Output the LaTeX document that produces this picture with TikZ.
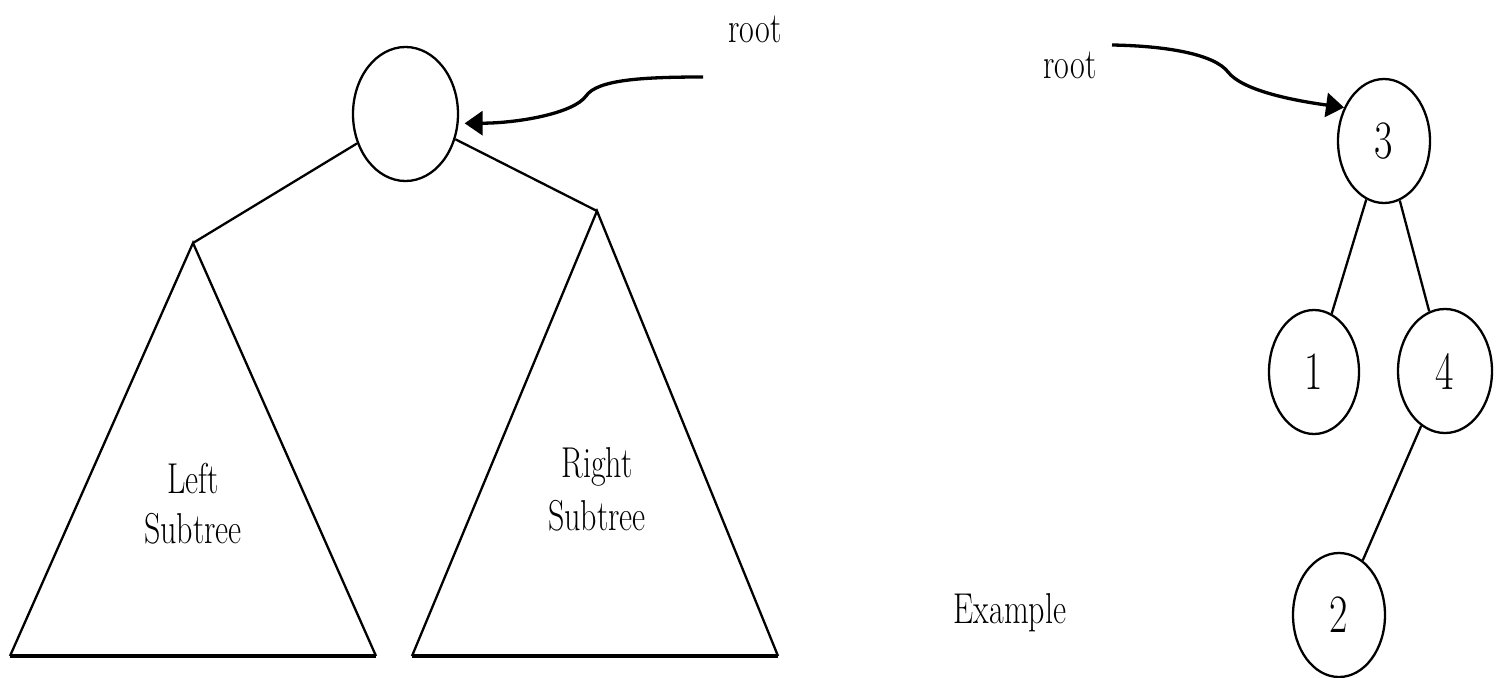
\documentclass[tikz,border=0pt]{standalone}
\usetikzlibrary{shapes.geometric,arrows.meta}
\newcommand\vstr[1]{\scalebox{1}[1.35]{#1}}
\begin{document}
\begin{tikzpicture}[x=1pt,y=-1pt,
  lw/.style={line width=2.3pt},
  tnode/.style={draw,ellipse,line width=2.3pt,inner sep=0pt,minimum width=92pt,minimum height=124pt,
                font=\fontsize{40}{44}\selectfont},
  lbl/.style={inner sep=0pt,anchor=base,font=\fontsize{32}{37}\selectfont},
  edge/.style={line width=2.3pt},
  ptr/.style={line width=3.3pt,-{Triangle[length=18pt,width=24pt]}}
]
\useasboundingbox (0,0) rectangle (1501,677);
% left: general structure
\node[tnode,minimum width=105pt,minimum height=134pt] (root) at (405.5,114) {};
\coordinate (la) at (193,243);
\coordinate (lb1) at (10,656);
\coordinate (lb2) at (376,656);
\coordinate (ra) at (597,211);
\coordinate (rb1) at (412,656);
\coordinate (rb2) at (778,656);
\draw[lw,line join=miter] (lb1) -- (la) -- (lb2);
\draw[line width=3.3pt] (lb1) -- (lb2);
\draw[lw,line join=miter] (rb1) -- (ra) -- (rb2);
\draw[line width=3.3pt] (rb1) -- (rb2);
\draw[edge] (root) -- (la);
\draw[edge] (root) -- (ra);
\node[lbl] (lt1) at (193,493) {\vstr{Left}};
\node[lbl] (lt2) at (193,543) {\vstr{Subtree}};
\node[lbl] (rt1) at (597,477) {\vstr{Right}};
\node[lbl] (rt2) at (597,530) {\vstr{Subtree}};
\node[lbl] (rootA) at (755,43) {\vstr{root}};
\coordinate (pA) at (703,77);
\draw[ptr,shorten >=6pt] (pA) .. controls (640,77) and (597,80) .. (586,96)
   .. controls (574,113) and (520,123) .. (root.350);
% right: example
\node[tnode] (n3) at (1384,141) {\vstr{3}};
\node[tnode,minimum width=90pt] (n1) at (1314,372) {\vstr{1}};
\node[tnode,minimum width=94pt] (n4) at (1445,371) {\vstr{4}};
\node[tnode] (n2) at (1339,615) {\vstr{2}};
\draw[edge] (n3) -- (n1);
\draw[edge] (n3) -- (n4);
\draw[edge] (n4) -- (n2);
\node[lbl] (rootB) at (1070,78) {\vstr{root}};
\coordinate (pB) at (1112,45);
\draw[ptr] (pB) .. controls (1170,46) and (1215,55) .. (1228,72)
   .. controls (1242,90) and (1290,100) .. (n3.140);
\node[lbl] (ex) at (1010,623) {\vstr{Example}};
\end{tikzpicture}
\end{document}
